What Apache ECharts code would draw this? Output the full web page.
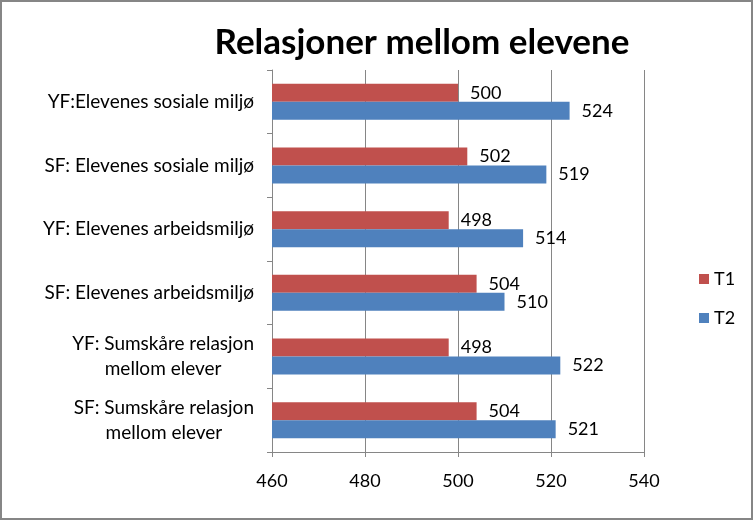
<!DOCTYPE html>
<html><head><meta charset="utf-8">
<script src="https://cdn.jsdelivr.net/npm/echarts@6/dist/echarts.min.js"></script>
<style>html,body{margin:0;padding:0;background:#fff}#c{width:753px;height:520px;box-sizing:border-box;border:2px solid #868686}</style>
</head><body><div id="c"></div>
<script>
const categories = [
  'SF: Sumskåre relasjon\nmellom elever',
  'YF: Sumskåre relasjon\nmellom elever',
  'SF: Elevenes arbeidsmiljø',
  'YF: Elevenes arbeidsmiljø',
  'SF: Elevenes sosiale miljø',
  'YF:Elevenes sosiale miljø'
];
const t1 = [504, 498, 504, 498, 502, 500];
const t2 = [521, 522, 510, 514, 519, 524];
const seriesNames = ['T1', 'T2'];
const xTicks = {min: 460, max: 540, interval: 20};

const FONT = 'Lato';
const chart = echarts.init(document.getElementById('c'));
chart.setOption({
  animation: false,
  title: {text: 'Relasjoner mellom elevene', left: 415, top: 18, textAlign: 'center',
    textStyle: {fontFamily: FONT, fontWeight: 'bold', fontSize: 35, color: '#000'}},
  legend: {orient: 'vertical', left: 692, top: 263, itemWidth: 10, itemHeight: 10, itemGap: 21,
    icon: 'rect', data: seriesNames,
    textStyle: {fontFamily: FONT, fontSize: 18, color: '#000'}},
  grid: {left: 270, right: 107, top: 68, bottom: 66, containLabel: false},
  xAxis: {type: 'value', min: xTicks.min, max: xTicks.max, interval: xTicks.interval,
    axisLine: {show: true, lineStyle: {color: '#868686'}},
    axisTick: {show: true, length: 5, lineStyle: {color: '#868686'}},
    splitLine: {show: true, lineStyle: {color: '#868686'}},
    axisLabel: {margin: 20, fontFamily: FONT, fontSize: 18, color: '#000'}},
  yAxis: {type: 'category', data: categories,
    axisLine: {show: true, lineStyle: {color: '#868686'}},
    axisTick: {show: true, length: 5, lineStyle: {color: '#868686'}},
    axisLabel: {margin: 18, fontFamily: FONT, fontSize: 19, color: '#000', lineHeight: 25,
      formatter: v => '{c|' + v.split('\n').join('}\n{c|') + '}',
      rich: {c: {align: 'center', fontFamily: FONT, fontSize: 19, color: '#000', lineHeight: 25}}}},
  series: [
    {name: 'T1', type: 'bar', data: t1, barWidth: 18, barGap: '0%',
      itemStyle: {color: '#C0504D'},
      label: {show: true, position: 'right', distance: 12, fontFamily: FONT, fontSize: 18, color: '#000'}},
    {name: 'T2', type: 'bar', data: t2, barWidth: 18, barGap: '0%',
      itemStyle: {color: '#4F81BD'},
      label: {show: true, position: 'right', distance: 12, fontFamily: FONT, fontSize: 18, color: '#000'}}
  ]
});
</script></body></html>
